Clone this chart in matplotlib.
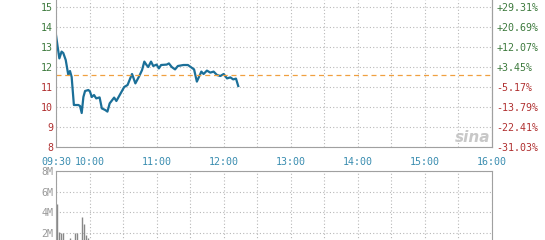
import matplotlib.pyplot as plt

# intraday price, minutes after 09:30
minutes = [0, 1.5, 3, 5, 6.5, 8.7, 11, 12.5, 14, 16, 20, 21.5, 23, 24.5, 26, 29,
           30.4, 32, 34, 36, 39, 41, 44, 46, 48, 52, 54, 57, 61, 64, 68, 69, 71,
           74.5, 77, 79, 81, 82.5, 85, 87, 90, 92, 94, 99, 101, 103.5, 106.5,
           109, 114, 118, 121, 123.5, 126, 128, 130, 132, 135, 138, 141, 144,
           147, 150, 153, 156, 158.5, 161, 163]
prices = [13.6, 13.0, 12.43, 12.77, 12.7, 12.35, 11.6, 11.8, 11.5, 10.1, 10.1,
          10.05, 9.7, 10.5, 10.8, 10.85, 10.77, 10.5, 10.6, 10.43, 10.48, 9.93,
          9.85, 9.77, 10.18, 10.47, 10.3, 10.6, 11.0, 11.1, 11.65, 11.5, 11.18,
          11.55, 11.85, 12.27, 12.1, 12.0, 12.27, 12.05, 12.12, 11.93, 12.1,
          12.12, 12.18, 12.0, 11.88, 12.05, 12.1, 12.1, 11.98, 11.88, 11.27,
          11.52, 11.77, 11.65, 11.82, 11.72, 11.77, 11.6, 11.55, 11.65, 11.43,
          11.48, 11.38, 11.42, 11.05]
prev_close = 11.6

# volume bars (shares)
vol_minutes = [1, 3, 4.5, 6, 9, 12.5, 15, 17, 18.5, 21, 23.5, 25, 27, 28.6, 33, 40, 50, 60]
volumes = [4.8e6, 2.1e6, 2.0e6, 2.0e6, 1.2e6, 1.5e6, 1.1e6, 2.0e6, 2.0e6, 1.2e6,
           3.5e6, 2.9e6, 1.8e6, 1.5e6, 1.0e6, 0.9e6, 0.8e6, 0.9e6]

price_ticks = [8, 9, 10, 11, 12, 13, 14, 15]
pct_labels = ['-31.03%', '-22.41%', '-13.79%', '-5.17%', '+3.45%', '+12.07%', '+20.69%', '+29.31%']
time_ticks = list(range(0, 391, 30))
time_labels = ['09:30', '10:00', '', '11:00', '', '12:00', '', '13:00', '',
               '14:00', '', '15:00', '', '16:00']
vol_ticks = [2e6, 4e6, 6e6, 8e6]
vol_labels = ['2M', '4M', '6M', '8M']

green = '#3d7a3d'
red = '#b03030'
axis_grey = '#a0a0a0'
mono = 'DejaVu Sans Mono'

fig = plt.figure(figsize=(5.45, 2.4), dpi=100)
ax = fig.add_axes([56 / 545, 0.3875, 436 / 545, 0.6125])
vax = fig.add_axes([56 / 545, -0.05625, 436 / 545, 0.34375])

# price panel
ax.plot(minutes, prices, color='#1b6f98', lw=1.6, solid_joinstyle='round')
ax.axhline(prev_close, color='#f0a040', lw=0.9, linestyle=(0, (4, 3)))
ax.set_xlim(0, 390)
ax.set_ylim(8, 15.35)
ax.set_yticks(price_ticks)
ax.set_yticklabels([str(p) for p in price_ticks], fontfamily=mono, fontsize=7.2)
for lbl, p in zip(ax.get_yticklabels(), price_ticks):
    lbl.set_color(green if p > prev_close else red)
ax.set_xticks(time_ticks)
ax.set_xticklabels(time_labels, fontfamily=mono, fontsize=7.2, color='#3a8db0')
ax.tick_params(axis='y', length=0, pad=2)
ax.tick_params(axis='x', length=0, pad=7)
ax.grid(True, color='#b8b8b8', lw=0.8, linestyle=(0, (1, 2)))
for side in ['left', 'bottom', 'right']:
    ax.spines[side].set_color(axis_grey)
ax.spines['top'].set_visible(False)

ax2 = ax.twinx()
ax2.set_ylim(ax.get_ylim())
ax2.set_yticks(price_ticks)
ax2.set_yticklabels(pct_labels, fontfamily=mono, fontsize=7.2)
for lbl, p in zip(ax2.get_yticklabels(), price_ticks):
    lbl.set_color(green if p > prev_close else red)
ax2.tick_params(length=0, pad=3)
for side in ['left', 'bottom', 'top']:
    ax2.spines[side].set_visible(False)
ax2.spines['right'].set_color(axis_grey)

ax.text(0.997, 0.068, 'sina', transform=ax.transAxes, ha='right', va='center',
        fontsize=11, fontweight='bold', style='italic', color='#c8c8c8')

# volume panel
vax.vlines(vol_minutes, 0, volumes, color='#888888', lw=1)
vax.set_xlim(0, 390)
vax.set_ylim(0, 8e6)
vax.set_yticks(vol_ticks)
vax.set_yticklabels(vol_labels, fontfamily=mono, fontsize=7.2, color='#999999')
vax.set_xticks(time_ticks)
vax.set_xticklabels([])
vax.tick_params(length=0, pad=2)
vax.grid(True, color='#b8b8b8', lw=0.8, linestyle=(0, (1, 2)))
for side in vax.spines:
    vax.spines[side].set_color(axis_grey)

fig.savefig('out.png', dpi=100)
